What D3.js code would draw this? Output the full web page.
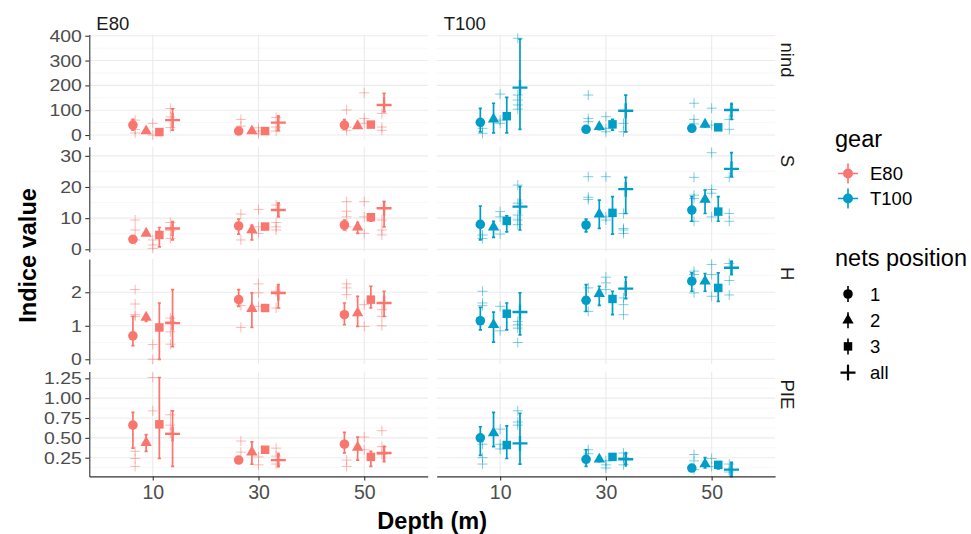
<!DOCTYPE html>
<html><head><meta charset="utf-8">
<script src="https://cdn.jsdelivr.net/npm/d3@7"></script>
<style>body{margin:0;background:#fff} text{font-family:"Liberation Sans",Arial,sans-serif}</style>
</head><body><svg id="c" width="971" height="534"></svg>
<script>
// ---------- data ----------
const gears = ["E80", "T100"];
const indices = ["nind", "S", "H", "PIE"];
const depths = ["10", "30", "50"];
const positions = ["1", "2", "3", "all"];

// y breaks per indice
const nindTicks = [0, 100, 200, 300, 400];
const sTicks = [0, 10, 20, 30];
const hTicks = [0, 1, 2];
const pieTicks = [0.25, 0.5, 0.75, 1.0, 1.25];
const nindMinor = [50, 150, 250, 350];
const sMinor = [5, 15, 25];
const hMinor = [0.5, 1.5, 2.5];
const pieMinor = [0.125, 0.375, 0.625, 0.875, 1.125];

// mean / low / high : [gear][depth][position 1,2,3,all]
const nindMean = [[[40,16,12,60],[16,16,16,50],[40,37,42,121]],
                  [[51,64,76,191],[23,33,43,98],[27,43,31,101]]];
const nindLo   = [[[20,12,8,20],[12,12,13,18],[25,30,37,94]],
                  [[13,9,9,23],[18,22,20,13],[22,33,27,63]]];
const nindHi   = [[[63,20,16,105],[20,20,19,74],[62,45,47,168]],
                  [[107,128,152,386],[28,45,63,161],[32,50,35,124]]];
// raw values : [gear][depth][net 1,2,3]
const nindRaw  = [[[[60,22,8],[47,0],[107,73,30]],[[63,36],[29,16,5],[71,32,16]],[[101,32,19],[170,67,47],[87,32,19]]],
                  [[[27,7],[165,60,47],[390,161,141,121,104]],[[161,67,54],[74,27,13],[47,13]],[[128,63,45],[108,40],[63,23]]]];

const sMean = [[[3.2,5.1,4.6,6.7],[7.5,6.2,7.3,12.6],[7.8,7.1,10.3,13.2]],
               [[8,7.1,9.1,13.7],[7.8,11.3,11.7,19.3],[12.6,16,12.1,25.8]]];
const sLo   = [[[2.8,4.6,0.8,3],[4.9,3,6.9,10.5],[6.2,5.1,9,7.2]],
               [[3,3.8,5.6,6.2],[5.6,6.7,4.9,11.5],[9,11.5,9,23.3]]];
const sHi   = [[[3.6,5.6,7,8.9],[9.7,7.7,7.7,14.8],[9.4,8.6,11.3,15.3]],
               [[13.9,9,10.7,20.1],[9.7,15.8,16.9,23.1],[16.9,19,16.9,31]]];
const sRaw  = [[[[9.4,6.2,3],[3,1.4,0.3],[8.6,6,3.5]],[[11.3,3],[12.8,7.2,5.1],[14.2,8.6,7.2,6.2]],[[15.3,12.2,10.4,7.2],[15.3,10.4,5.1],[9.4,6.2,4.6]]],
               [[[4.6,3.5],[12.1,10.4,4.9],[20.6,14.8,11,9.4,7.9]],[[23.3,16.7,16],[23.3,10.4,9.4],[11.5,6.7,6.2,5.1]],[[23.1,17.4,16.3,9],[31,19.2,18,10.4],[23.1,11.5,9]]]];

const hMean = [[[0.70,1.25,0.95,1.08],[1.78,1.51,1.53,1.98],[1.33,1.38,1.78,1.68]],
               [[1.15,1.03,1.36,1.41],[1.76,1.96,1.80,2.11],[2.33,2.33,2.13,2.73]]];
const hLo   = [[[0.41,1.13,0,0.38],[1.58,0.95,1.50,1.53],[1.03,0.98,1.53,1.28]],
               [[0.88,0.51,0.88,0.73],[1.43,1.61,1.33,1.81],[2.03,2.03,1.73,2.53]]];
const hHi   = [[[1.28,1.33,1.68,2.08],[2.08,1.98,1.56,2.23],[1.68,1.88,2.18,2.03]],
               [[1.55,1.41,1.68,1.98],[2.23,2.18,2.03,2.45],[2.58,2.56,2.58,2.91]]];
const hRaw  = [[[[2.08,1.65,1.33,1.28],[0.44,0.0],[1.23,1.13,0.82,0.45]],[[1.6,0.95],[2.25,1.98,1.58],[2.03,1.53]],[[2.25,2.13,1.93],[1.63,0.98],[1.48,1.28,1.0]]],
               [[[2.03,1.68,1.6],[1.58,0.85],[1.13,1.03,0.93,0.5]],[[2.13,1.43],[2.45,2.28,2.08],[1.83,1.63,1.33]],[[2.63,2.53,1.98],[2.83,2.53,1.88],[2.86,2.35,1.92]]]];

const pieMean = [[[0.66,0.44,0.67,0.55],[0.22,0.32,0.35,0.22],[0.42,0.38,0.26,0.31]],
                 [[0.50,0.56,0.41,0.43],[0.23,0.23,0.26,0.23],[0.12,0.17,0.16,0.10]]];
const pieLo   = [[[0.37,0.33,0.24,0.14],[0.19,0.17,0.33,0.14],[0.31,0.22,0.14,0.20]],
                 [[0.28,0.39,0.24,0.17],[0.14,0.20,0.24,0.17],[0.10,0.12,0.11,0.01]]];
const pieHi   = [[[0.82,0.54,1.26,0.84],[0.25,0.45,0.37,0.29],[0.57,0.51,0.33,0.39]],
                 [[0.64,0.82,0.65,0.81],[0.35,0.26,0.29,0.30],[0.14,0.25,0.19,0.19]]];
const pieRaw  = [[[[0.33,0.24,0.14],[1.26,0.84],[0.79,0.66,0.56]],[[0.46,0.32],[0.26,0.16],[0.37,0.27,0.17]],[[0.22,0.14],[0.51,0.35],[0.59,0.39,0.29]]],
                 [[[0.42,0.25,0.17],[0.61,0.42,0.36],[0.84,0.70,0.66]],[[0.35,0.30],[0.21,0.16,0.12],[0.31,0.25,0.16]],[[0.29,0.21,0.10],[0.24,0.14],[0.17,0.10,0.07]]]];

// ---------- assembly ----------
const panels = [
  {name: "nind", mean: nindMean, lo: nindLo, hi: nindHi, raw: nindRaw, ticks: nindTicks, minor: nindMinor, dom: [-18, 405], fmt: d3.format("d")},
  {name: "S",    mean: sMean,    lo: sLo,    hi: sHi,    raw: sRaw,    ticks: sTicks,    minor: sMinor,    dom: [-0.8, 32.9], fmt: d3.format("d")},
  {name: "H",    mean: hMean,    lo: hLo,    hi: hHi,    raw: hRaw,    ticks: hTicks,    minor: hMinor,    dom: [-0.144, 2.99], fmt: d3.format("d")},
  {name: "PIE",  mean: pieMean,  lo: pieLo,  hi: pieHi,  raw: pieRaw,  ticks: pieTicks,  minor: pieMinor,  dom: [0.0145, 1.337], fmt: d3.format(".2f")}
];

const svg = d3.select("#c");
const colLeft = [89.3, 436.7], colW = 338.4;
const rowTop = 34.5, rowH = 105, rowGap = 7.3;
const color = d3.scaleOrdinal().domain(gears).range(["#F8766D", "#009DC8"]);
const posOffset = d3.scalePoint().domain(positions).range([-0.1875, 0.1875]);
const rawOffset = d3.scalePoint().domain(["1","2","3"]).range([-1/6, 1/6]);
const AX = "#333333", TXT = "#4D4D4D", GRID = "#EBEBEB", GRIDMIN = "#F4F4F4";
const FF = "Liberation Sans, Arial, sans-serif";
const YSX = 1.13; // horizontal widening of y tick labels

function plusPath(cx, cy, h) { return `M${cx-h},${cy}H${cx+h}M${cx},${cy-h}V${cy+h}`; }
function shapeFor(p) {
  if (p === "1") return d3.symbol(d3.symbolCircle, 72)();
  if (p === "2") return d3.symbol(d3.symbolTriangle, 56)();
  if (p === "3") return d3.symbol(d3.symbolSquare, 72)();
  return null;
}

panels.forEach((P, ri) => {
  const top = rowTop + ri * (rowH + rowGap);
  const y = d3.scaleLinear().domain(P.dom).range([top + rowH, top]);
  gears.forEach((g, gi) => {
    const x = d3.scalePoint().domain(depths).range([colLeft[gi], colLeft[gi] + colW]).padding(0.6);
    const step = x.step();
    const G = svg.append("g");
    // grid
    G.selectAll(".mn").data(P.minor).join("line")
      .attr("x1", colLeft[gi]).attr("x2", colLeft[gi] + colW)
      .attr("y1", d => y(d)).attr("y2", d => y(d))
      .attr("stroke", GRIDMIN).attr("stroke-width", 0.7);
    G.selectAll(".mj").data(P.ticks).join("line")
      .attr("x1", colLeft[gi]).attr("x2", colLeft[gi] + colW)
      .attr("y1", d => y(d)).attr("y2", d => y(d))
      .attr("stroke", GRID).attr("stroke-width", 1.1);
    G.selectAll(".vx").data(depths).join("line")
      .attr("x1", d => x(d)).attr("x2", d => x(d))
      .attr("y1", top).attr("y2", top + rowH)
      .attr("stroke", GRID).attr("stroke-width", 1.1);

    const col = color(g);
    // raw points
    depths.forEach((dp, di) => {
      P.raw[gi][di].forEach((vals, ni) => {
        const cx = x(dp) + rawOffset(String(ni + 1)) * step;
        vals.forEach(v => {
          G.append("path").attr("d", plusPath(cx, y(v), 5))
            .attr("stroke", col).attr("stroke-width", 1).attr("opacity", 0.5).attr("fill", "none");
        });
      });
    });
    // error bars and means
    depths.forEach((dp, di) => {
      positions.forEach((p, pi) => {
        const cx = x(dp) + posOffset(p) * step;
        const lo = P.lo[gi][di][pi], hi = P.hi[gi][di][pi], m = P.mean[gi][di][pi];
        G.append("path")
          .attr("d", `M${cx},${y(lo)}V${y(hi)}M${cx-1.6},${y(lo)}H${cx+1.6}M${cx-1.6},${y(hi)}H${cx+1.6}`)
          .attr("stroke", col).attr("stroke-width", 1.7).attr("fill", "none");
        if (p === "all") {
          G.append("path").attr("d", plusPath(cx, y(m), 7.5))
            .attr("stroke", col).attr("stroke-width", 2.4).attr("fill", "none");
        } else {
          G.append("path").attr("d", shapeFor(p))
            .attr("transform", `translate(${cx},${y(m)})`).attr("fill", col);
        }
      });
    });

    // left axis
    if (gi === 0) {
      const ax = d3.axisLeft(y).tickValues(P.ticks).tickFormat(P.fmt).tickSize(4).tickSizeOuter(0).tickPadding(3);
      const a = svg.append("g").attr("transform", `translate(${colLeft[0]},0)`).call(ax);
      a.select(".domain").attr("stroke", AX).attr("stroke-width", 1.1);
      a.selectAll(".tick line").attr("stroke", AX).attr("stroke-width", 1.1);
      a.selectAll(".tick text").attr("fill", TXT).attr("font-size", 17.2).attr("font-family", FF)
        .attr("x", -7.5 / YSX).attr("transform", `scale(${YSX},1)`);
    }
    // bottom axis
    if (ri === panels.length - 1) {
      const ax = d3.axisBottom(x).tickSize(4).tickSizeOuter(0).tickPadding(5);
      const a = svg.append("g").attr("transform", `translate(0,${top + rowH})`).call(ax);
      a.select(".domain").attr("stroke", AX).attr("stroke-width", 1.1);
      a.selectAll(".tick line").attr("stroke", AX).attr("stroke-width", 1.1);
      a.selectAll(".tick text").attr("fill", TXT).attr("font-size", 19.5).attr("font-family", FF);
    }
    // strips
    if (ri === 0) {
      svg.append("text").attr("x", colLeft[gi] + 7).attr("y", 29.5)
        .attr("font-size", 18.5).attr("fill", "#1A1A1A").text(g);
    }
    if (gi === 1) {
      svg.append("text").attr("transform", `translate(781,${top + 8}) rotate(90)`)
        .attr("font-size", 18.5).attr("fill", "#1A1A1A").text(P.name);
    }
  });
});

// axis titles
svg.append("text").attr("x", (colLeft[0] + colLeft[1] + colW) / 2).attr("y", 529)
  .attr("text-anchor", "middle").attr("font-size", 23.5).attr("font-weight", "bold").text("Depth (m)");
svg.append("text").attr("transform", `translate(36,${rowTop + (4 * rowH + 3 * rowGap) / 2}) rotate(-90)`)
  .attr("text-anchor", "middle").attr("font-size", 23.5).attr("font-weight", "bold").text("Indice value");

// legends
const L = svg.append("g");
L.append("text").attr("x", 835).attr("y", 147).attr("font-size", 23.5).attr("fill", "#000").text("gear");
gears.forEach((g, i) => {
  const cy = 173.5 + i * 25;
  const c = color(g);
  L.append("path").attr("d", plusPath(848, cy, 10)).attr("stroke", c).attr("stroke-width", 1.6);
  L.append("circle").attr("cx", 848).attr("cy", cy).attr("r", 5).attr("fill", c);
  L.append("text").attr("x", 870).attr("y", cy).attr("dy", "0.36em").attr("font-size", 18.5).text(g);
});
L.append("text").attr("x", 835).attr("y", 266).attr("font-size", 23.5).attr("fill", "#000").text("nets position");
positions.forEach((p, i) => {
  const cy = 294 + i * 26.2;
  L.append("path").attr("d", `M848,${cy-8}V${cy+8}`).attr("stroke", "#000").attr("stroke-width", 1.6);
  if (p === "all") {
    L.append("path").attr("d", plusPath(848, cy, 7.5)).attr("stroke", "#000").attr("stroke-width", 2.2);
  } else {
    L.append("path").attr("d", shapeFor(p)).attr("transform", `translate(848,${cy})`).attr("fill", "#000");
  }
  L.append("text").attr("x", 870).attr("y", cy).attr("dy", "0.36em").attr("font-size", 18.5).text(p);
});
</script>
</body></html>
